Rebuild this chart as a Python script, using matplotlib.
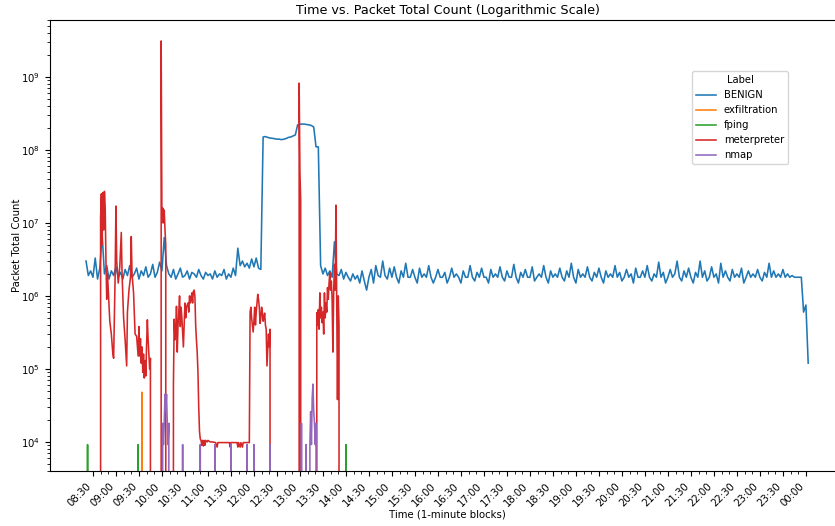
import pandas as pd
import numpy as np
import matplotlib
matplotlib.use('Agg')
import matplotlib.pyplot as plt
import matplotlib.dates as mdates
from matplotlib.ticker import FixedLocator

# BENIGN: 3-minute samples starting 08:21 (values in millions of packets)
benign_start = '08:21'
benign_millions = [
    3.0, 1.9, 2.2,                                      # 08:21
    1.8, 3.3, 1.7, 2.4, 7.0, 2.0, 2.6, 1.7, 2.2, 1.9,   # 08:30
    2.5, 1.8, 2.1, 1.7, 2.3, 1.9, 2.6, 1.8, 2.0, 2.4,   # 09:00
    1.7, 2.2, 1.9, 2.5, 1.8, 2.0, 2.7, 1.8, 2.1, 2.9,   # 09:30
    2.2, 6.3, 2.6, 2.0, 1.8, 2.3, 1.7, 2.0, 2.4, 1.8,   # 10:00
    1.9, 2.2, 1.7, 2.1, 2.0, 1.8, 2.3, 1.9, 1.7, 2.1,   # 10:30
    1.9, 2.0, 1.7, 2.2, 1.8, 2.0, 1.9, 2.3, 1.7, 2.0,   # 11:00
    1.8, 2.4, 1.9, 4.5, 2.6, 3.0, 2.5, 2.8, 2.4, 3.2,   # 11:30
    2.5, 3.3, 2.4, 2.3, 150, 152, 148, 145, 144, 142,   # 12:00
    140, 140, 138, 140, 143, 148, 150, 155, 160, 220,   # 12:30
    225, 225, 225, 222, 220, 215, 205, 110, 110, 2.6,   # 13:00
    2.0, 2.4, 1.9, 2.2, 1.8, 5.5, 2.0, 1.9, 2.3, 1.7,   # 13:30
    2.1, 1.8, 1.6, 2.0, 1.7, 1.9, 1.5, 2.2, 1.6, 1.2,   # 14:00
    1.8, 2.3, 1.5, 2.6, 1.9, 1.8, 3.0, 1.9, 1.7, 2.4,   # 14:30
    1.8, 2.5, 1.8, 1.5, 2.2, 1.8, 2.8, 1.8, 1.8, 2.3,   # 15:00
    1.8, 1.5, 2.4, 1.8, 2.0, 1.8, 2.6, 1.8, 1.5, 1.8,   # 15:30
    2.3, 1.8, 1.8, 2.1, 1.5, 1.8, 2.4, 1.8, 2.0, 1.8,   # 16:00
    1.5, 2.2, 1.8, 1.8, 2.6, 1.8, 1.6, 2.1, 1.8, 2.4,   # 16:30
    1.8, 1.8, 1.5, 2.3, 1.8, 2.0, 1.8, 2.5, 1.8, 1.6,   # 17:00
    2.2, 1.8, 1.8, 2.7, 1.8, 1.5, 2.1, 1.8, 2.3, 1.8,   # 17:30
    1.8, 2.5, 1.6, 1.8, 2.0, 1.8, 2.6, 1.8, 1.5, 2.2,   # 18:00
    1.8, 2.0, 1.8, 2.4, 1.8, 1.6, 2.2, 1.8, 2.8, 1.8,   # 18:30
    1.5, 2.3, 1.8, 2.0, 1.8, 2.5, 1.8, 1.6, 2.1, 1.8,   # 19:00
    2.4, 1.8, 1.5, 2.2, 1.8, 2.0, 1.8, 2.6, 1.8, 2.1,   # 19:30
    1.6, 1.8, 2.3, 1.8, 2.0, 1.5, 2.4, 1.8, 1.8, 2.2,   # 20:00
    1.8, 2.6, 1.8, 1.6, 2.0, 1.8, 2.9, 1.8, 2.1, 1.5,   # 20:30
    1.8, 2.3, 1.8, 2.0, 3.0, 1.8, 1.6, 2.2, 1.8, 2.4,   # 21:00
    1.8, 1.5, 2.1, 1.8, 3.0, 1.8, 2.2, 1.6, 1.8, 2.5,   # 21:30
    1.8, 2.0, 1.5, 2.8, 1.8, 2.2, 1.8, 1.6, 2.3, 1.8,   # 22:00
    2.0, 1.8, 2.4, 1.5, 1.8, 2.2, 1.8, 2.0, 1.8, 2.3,   # 22:30
    1.8, 1.6, 2.1, 1.8, 2.8, 1.8, 2.2, 1.8, 2.0, 1.8,   # 23:00
    2.3, 1.8, 2.0, 1.8, 1.9, 1.8, 1.8, 1.8, 1.8, 0.6,   # 23:30
    0.75, 0.12,                                         # 00:00
]

# meterpreter: minute -> packet count (0 = no traffic in that block)
meterpreter_t = [
    '08:39', '08:40', '08:41', '08:42', '08:43', '08:44', '08:45', '08:46', '08:47', '08:48',
    '08:49', '08:50', '08:52', '08:54', '08:56', '08:57', '08:58', '08:59', '09:00', '09:01',
    '09:03', '09:05', '09:07', '09:08', '09:10', '09:12', '09:14', '09:15', '09:17', '09:19',
    '09:20', '09:21', '09:23', '09:25', '09:27', '09:29', '09:30', '09:31', '09:32', '09:33',
    '09:34', '09:35', '09:36', '09:37', '09:38', '09:39', '09:40', '09:41', '09:42', '09:43',
    '09:44', '09:45', '09:46',
    '09:58', '09:59', '10:00', '10:01', '10:02', '10:03', '10:04', '10:05', '10:06',
    '10:14', '10:15', '10:16', '10:17', '10:18', '10:19', '10:20', '10:21', '10:22', '10:23',
    '10:24', '10:25', '10:26', '10:28', '10:29', '10:30', '10:31', '10:32', '10:34', '10:35',
    '10:36', '10:37', '10:38', '10:39', '10:40', '10:41', '10:42', '10:43', '10:44', '10:45',
    '10:46', '10:47', '10:48', '10:49', '10:50',
    '10:51', '10:52', '10:53', '10:54', '10:55', '10:56', '10:57', '10:59', '11:00', '11:03',
    '11:06', '11:10', '11:12', '11:13', '11:20', '11:28', '11:29', '11:30', '11:38', '11:39',
    '11:40', '11:42', '11:43', '11:45', '11:46', '11:54',
    '11:55', '11:56', '11:57', '11:59', '12:00', '12:01', '12:02', '12:03', '12:04', '12:05',
    '12:06', '12:07', '12:08', '12:09', '12:10', '12:11', '12:12', '12:13', '12:14', '12:15',
    '12:16', '12:17', '12:18', '12:19', '12:20', '12:21', '12:22',
    '12:58', '12:59', '13:00', '13:01', '13:02',
    '13:21', '13:22', '13:23', '13:24', '13:25', '13:26', '13:27', '13:28', '13:29', '13:30',
    '13:31', '13:32', '13:33', '13:34', '13:35', '13:36', '13:37', '13:38', '13:39', '13:40',
    '13:41', '13:42', '13:43', '13:44', '13:45', '13:46', '13:47', '13:48', '13:49', '13:50',
    '13:51', '13:52',
]
meterpreter_v = [
    0, 1.2e7, 2.5e7, 5e6, 2.6e7, 8e6, 2.7e7, 1.6e7, 3e6, 9e5,
    2.0e6, 1.2e6, 4.5e5, 3.0e5, 1.6e5, 1.4e5, 5e5, 2e6, 1.7e7, 3e6,
    1.5e6, 2.5e6, 7.4e6, 2e6, 5e5, 2.5e5, 1.1e5, 6e5, 1.2e6, 1.8e6,
    6.5e6, 2e6, 1.1e6, 3e5, 2.8e5, 1.5e5, 3.8e5, 1.5e5, 2.6e5, 1.2e5,
    2e5, 9e4, 1.6e5, 7.5e4, 1.3e5, 8e4, 2.2e5, 4.7e5, 2.5e5, 1.6e5,
    1e5, 1.4e5, 0,
    0, 3.1e9, 1e7, 1.6e7, 1.0e7, 1.5e7, 8e6, 5e6, 0,
    0, 6e4, 4.8e5, 2.5e5, 3e5, 7.2e5, 1.7e5, 4e5, 6e5, 1.0e6,
    3.8e5, 7e5, 5e5, 2e5, 4e5, 8e5, 5e5, 7e5, 8e5, 6e5,
    1.0e6, 8e5, 9e5, 1.1e6, 8e5, 1.15e6, 1.2e6, 1.0e6, 4e5, 2.5e5,
    1.7e5, 9e4, 3e4, 1.4e4, 1.1e4,
    1.05e4, 9e3, 1.05e4, 8.8e3, 1.05e4, 9e3, 1.05e4, 1.0e4, 1.05e4, 1.0e4,
    1.0e4, 9.8e3, 8.5e3, 9.8e3, 9.8e3, 9.8e3, 8.5e3, 9.8e3, 9.8e3, 8.5e3,
    9.8e3, 8.5e3, 9.8e3, 8.5e3, 9.8e3, 9.8e3,
    6e5, 7e5, 5e5, 3.2e5, 4.5e5, 7e5, 4e5, 6e5, 8e5, 1.05e6,
    9e5, 7e5, 4.2e5, 5e5, 7e5, 6e5, 4.5e5, 5e5, 5.8e5, 4e5,
    3.5e5, 1.1e5, 1.8e5, 3e5, 2e5, 3.5e5, 0,
    0, 8.2e8, 5e7, 2e7, 0,
    0, 5.9e5, 4e5, 6.5e5, 3.5e5, 1.1e6, 5e5, 7e5, 4.3e5, 6e5,
    3e5, 1.1e6, 5e5, 8e5, 6e5, 1.3e6, 9e5, 1.5e6, 2.1e6, 1.2e6,
    1.6e6, 9e5, 1.7e5, 1.1e6, 2.7e6, 1.2e6, 1.75e7, 8e5, 3.8e4, 1e6,
    4e5, 0,
]

nmap_t = [
    '10:00', '10:01', '10:02', '10:03', '10:04', '10:05', '10:06', '10:07', '10:08', '10:09', '10:10',
    '10:26', '10:27', '10:28', '10:49', '10:50', '10:51', '11:08', '11:09', '11:10',
    '11:29', '11:30', '11:31', '11:50', '11:51', '11:52', '11:59', '12:00', '12:01',
    '12:20', '12:21', '12:22',
    '13:01', '13:02', '13:03', '13:07', '13:08', '13:09',
    '13:12', '13:13', '13:14', '13:15', '13:16', '13:17', '13:18', '13:19', '13:20', '13:21', '13:22',
]
nmap_v = [
    0, 1.8e4, 9.2e3, 1.8e4, 4.5e4, 2.7e4, 4.5e4, 1.8e4, 9.2e3, 1.8e4, 0,
    0, 9.2e3, 0, 0, 9.2e3, 0, 0, 9.2e3, 0,
    0, 9.2e3, 0, 0, 9.2e3, 0, 0, 9.2e3, 0,
    0, 9.2e3, 0,
    0, 1.8e4, 0, 0, 9.2e3, 0,
    0, 9.2e3, 2.6e4, 9.2e3, 4e4, 6.2e4, 2.6e4, 1.8e4, 9.2e3, 1.8e4, 0,
]

fping_t = ['08:22', '08:23', '08:24', '09:28', '09:29', '09:30', '13:59', '14:00', '14:01']
fping_v = [0, 9.2e3, 0, 0, 9.2e3, 0, 0, 9.2e3, 0]

exfiltration_t = ['09:33', '09:34', '09:35']
exfiltration_v = [0, 4.8e4, 0]


def to_dt(times):
    # capture runs 08:xx -> 00:xx, so early hours belong to the next day
    out = []
    for t in times:
        ts = pd.Timestamp('2024-01-01 ' + t)
        if ts.hour < 6:
            ts += pd.Timedelta(days=1)
        out.append(ts)
    return out


benign_x = pd.date_range(to_dt([benign_start])[0], periods=len(benign_millions), freq='3min')
benign_y = np.array(benign_millions) * 1e6

fig = plt.figure(figsize=(8.35, 5.26), dpi=100)
ax = fig.add_axes([50 / 835, 55 / 526, 795 / 835, 451 / 526])

lw = 1.15
ax.plot(benign_x, benign_y, color='C0', lw=lw, label='BENIGN')
ax.plot(to_dt(exfiltration_t), exfiltration_v, color='C1', lw=lw, label='exfiltration')
ax.plot(to_dt(fping_t), fping_v, color='C2', lw=lw, label='fping')
ax.plot(to_dt(meterpreter_t), meterpreter_v, color='C3', lw=lw, label='meterpreter')
ax.plot(to_dt(nmap_t), nmap_v, color='C4', lw=lw, label='nmap')

ax.set_yscale('log')
ax.set_ylim(4.0e3, 6.0e9)
ax.set_xlim(to_dt(['07:34'])[0], to_dt(['00:51'])[0])

# ticks only across the captured day, 08:30 .. 00:00
major = pd.date_range(to_dt(['08:30'])[0], to_dt(['00:00'])[0], freq='30min')
minor = pd.date_range(to_dt(['08:30'])[0], to_dt(['00:00'])[0], freq='10min')
ax.xaxis.set_major_locator(FixedLocator(mdates.date2num(major)))
ax.xaxis.set_minor_locator(FixedLocator(mdates.date2num(minor)))
ax.xaxis.set_major_formatter(mdates.DateFormatter('%H:%M'))
plt.setp(ax.get_xticklabels(), rotation=45, ha='right')
ax.xaxis.get_offset_text().set_visible(False)

fs = 7.3
ax.tick_params(axis='both', which='major', labelsize=fs)
ax.set_title('Time vs. Packet Total Count (Logarithmic Scale)', fontsize=9.2, pad=4)
ax.set_xlabel('Time (1-minute blocks)', fontsize=fs, labelpad=1)
ax.set_ylabel('Packet Total Count', fontsize=fs)
ax.yaxis.set_label_coords(-0.035, 0.5)

ax.legend(title='Label', fontsize=7.2, title_fontsize=7.2,
          loc='upper left', bbox_to_anchor=(687 / 835, 1 - 66 / 526),
          bbox_transform=fig.transFigure)

fig.savefig('out.png', dpi=100)
